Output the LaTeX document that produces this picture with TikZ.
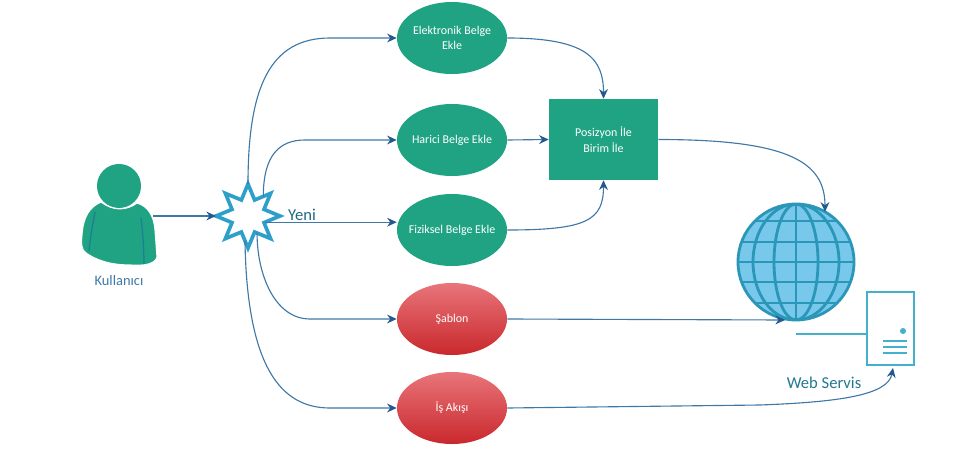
\documentclass[tikz,border=0pt]{standalone}
\usepackage{fontspec}
\setmainfont{Carlito}
\usetikzlibrary{arrows.meta, shapes.geometric}

\definecolor{tealfill}{HTML}{1FA382}
\definecolor{redfill}{HTML}{C9282C}
\definecolor{redlight}{HTML}{E8757A}
\definecolor{linkblue}{HTML}{3F78A6}
\definecolor{tipblue}{HTML}{24588F}
\definecolor{globeline}{HTML}{2A96B8}
\definecolor{globefill}{HTML}{78C8EC}
\definecolor{serverline}{HTML}{45B0CC}
\definecolor{starline}{HTML}{2E9FCB}
\definecolor{foldline}{HTML}{1D7F95}

\begin{document}
\begin{tikzpicture}[x=0.025cm, y=-0.025cm,
  task/.style={ellipse, fill=tealfill, text=white, inner sep=0pt, inner xsep=-0.6cm, minimum width=2.75cm, minimum height=1.8cm, align=center, font=\fontsize{8.5}{11}\selectfont},
  redtask/.style={task, fill=none, top color=redlight, bottom color=redfill},
  e/.style={-{Stealth[length=2.4mm, width=2.2mm, color=tipblue]}, thick, linkblue},
  lbl/.style={text=linkblue, inner sep=0pt}]
  \useasboundingbox (0,0) rectangle (960,461);

  % person
  \node[circle, fill=tealfill, inner sep=0pt, minimum size=1.1cm] (head) at (119,186) {};
  \draw[fill=tealfill, draw=white, thick] (101,202) .. controls (113,211) and (126,211) .. (137,203)
    .. controls (148,206) and (154,216) .. (155,230) -- (157,257)
    .. controls (155,264) and (145,266) .. (130,265) .. controls (110,265) and (96,260) .. (86,253)
    .. controls (81,250) and (81,242) .. (82,235) .. controls (83,218) and (89,207) .. (101,202) -- cycle;
  \draw[foldline, line width=0.9pt] (95,212) .. controls (92,228) and (90,240) .. (89,251);
  \draw[foldline, line width=0.9pt] (141,218) .. controls (143,235) and (144,250) .. (144,264);
  \node[lbl, font=\fontsize{10.3}{12}\selectfont] (user) at (119,281) {Kullanıcı};
  \coordinate (userout) at (153,216);

  % start event
  \node[star, star points=8, star point ratio=1.85, draw=starline, line width=2.6pt, fill=white, minimum size=1.6cm, inner sep=0pt, outer sep=0pt] (new) at (248,216) {};
  \node[lbl, text=globeline!70!black, font=\fontsize{11.8}{13}\selectfont] (newlbl) at (302,215) {Yeni};

  % tasks
  \node[task] (elek) at (452,38) {Elektronik Belge\\Ekle};
  \node[task] (harici) at (452,140) {Harici Belge Ekle};
  \node[task] (fizik) at (452,230) {Fiziksel Belge Ekle};
  \node[redtask] (sablon) at (452,319) {Şablon};
  \node[redtask] (akis) at (452,408) {İş Akışı};
  \node[rectangle, fill=tealfill, text=white, minimum width=2.725cm, minimum height=2.025cm, align=center, font=\fontsize{8.5}{11}\selectfont] (pos) at (603.5,139.5) {Posizyon İle\\Birim İle};

  % globe
  \node[circle, fill=globefill, draw=globeline, line width=2pt, minimum size=2.9cm, inner sep=0pt, outer sep=0pt] (globe) at (796,262) {};
  \begin{scope}
    \clip (796,262) circle (58);
    \foreach \rx in {22,43} \draw[globeline, line width=2pt] (796,262) ellipse [x radius=\rx, y radius=58];
    \draw[globeline, line width=2pt] (796,204) -- (796,320);
    \foreach \dy in {-41,-20,0,20,41} \draw[globeline, line width=2pt] (738,262+\dy) -- (854,262+\dy);
  \end{scope}

  % server
  \node[rectangle, draw=serverline, thick, fill=white, minimum width=1.175cm, minimum height=1.825cm, inner sep=0pt] (server) at (890.5,328.5) {};
  \coordinate (lineend) at (796,334);
  \draw[serverline, thick] (lineend) -- (server.west |- lineend);
  \node[circle, fill=serverline, inner sep=0pt, minimum size=1.5mm] (led) at (903,331) {};
  \foreach \y in {341,347,353} \draw[serverline, line width=1.6pt] (883,\y) -- (907,\y);
  \node[lbl, text=globeline!80!black, font=\fontsize{11.8}{13}\selectfont] (weblbl) at (824,383) {Web Servis};

  % connectors
  \coordinate (globein) at (785,320);
  \coordinate (serverin) at (893,368);
  \coordinate (elekturn) at (330,38);
  \coordinate (hariciturn) at (305,140);
  \coordinate (sablonturn) at (310,319);
  \coordinate (akisturn) at (330,408);
  \coordinate (webturn) at (760,405);
  \draw[e] (userout) -- (new.180);
  \draw[e] (new.90) .. controls +(0,-97) and +(-60,0) .. (elekturn) -- (elek.west);
  \draw[e] (new.52) .. controls +(0,-42) and +(-25,0) .. (hariciturn) -- (harici.west);
  \draw[e] (new.-20) -- (fizik.west |- new.-20);
  \draw[e] (new.-62) .. controls +(0,42) and +(-35,0) .. (sablonturn) -- (sablon.west);
  \draw[e] (new.-97) .. controls +(2,125) and +(-50,0) .. (akisturn) -- (akis.west);
  \draw[e] (elek.east) .. controls +(80,0) and +(0,-40) .. (pos.north);
  \draw[e] (harici.east) -- (pos.west);
  \draw[e] (fizik.east) .. controls +(80,0) and +(0,40) .. (pos.south);
  \draw[e] (pos.east) .. controls +(130,0) and +(0,-50) .. (globe.60);
  \draw[e] (sablon.east) -- (globein);
  \draw[e] (akis.east) -- (webturn) .. controls +(80,-3) and +(-5,27) .. (serverin);
\end{tikzpicture}
\end{document}
